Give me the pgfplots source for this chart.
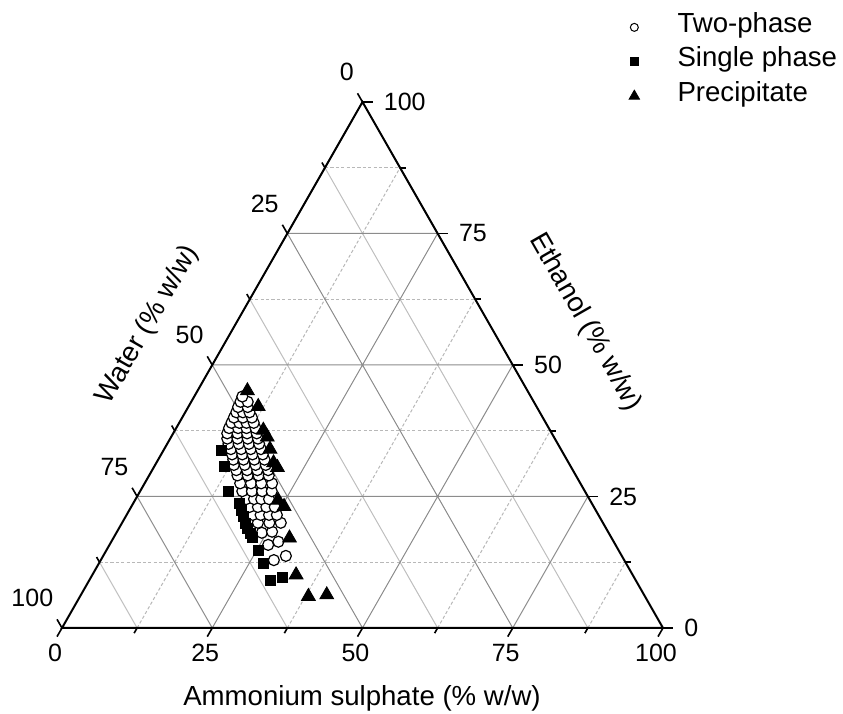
\documentclass[border=0pt]{standalone}
\usepackage{pgfplots}
\pgfplotsset{compat=1.18}
\usepackage{pgfplotstable}
\usepackage{fontspec}
\setmainfont{Liberation Sans}

\newcommand\ticksize{\fontsize{12.5}{15}\selectfont}
\newcommand\titlesize{\fontsize{13.8}{16.5}\selectfont}

\definecolor{gridmajor}{gray}{0.55}
\definecolor{gridminor}{gray}{0.72}
\definecolor{gridminorw}{gray}{0.75}
\tikzset{ttick/.style={black, line width=0.8pt}}

% Compositions in % w/w: A = ammonium sulphate, E = ethanol (water = 100 - A - E)
\pgfplotstableread{
A E
28.8 12.9
30.4 13.7
26.4 15.8
27.8 16.4
24.2 18.1
25.8 18.3
22.6 20.0
24.5 20.0
26.4 20.0
21.0 21.5
22.3 21.5
23.7 21.5
25.0 21.5
19.7 23.0
21.1 23.0
22.5 23.0
23.9 23.0
18.4 24.5
19.7 24.5
20.9 24.5
22.2 24.5
17.0 26.0
18.6 26.0
20.3 26.0
21.9 26.0
15.9 27.5
17.7 27.5
19.4 27.5
21.2 27.5
14.7 29.0
16.4 29.0
18.2 29.0
19.9 29.0
14.0 30.0
15.8 30.0
17.5 30.0
19.3 30.0
13.1 31.0
14.9 31.0
16.7 31.0
18.4 31.0
12.5 32.0
14.2 32.0
16.0 32.0
17.7 32.0
11.8 33.0
13.5 33.0
15.2 33.0
16.9 33.0
11.1 34.0
12.8 34.0
14.4 34.0
16.1 34.0
10.2 35.0
11.9 35.0
13.6 35.0
15.3 35.0
9.5 36.0
11.2 36.0
12.9 36.0
14.6 36.0
9.0 37.0
10.7 37.0
12.3 37.0
13.9 37.0
8.8 38.0
10.3 38.0
11.7 38.0
13.2 38.0
8.7 39.0
10.0 39.0
11.2 39.0
12.4 39.0
8.6 40.0
10.1 40.0
11.6 40.0
8.5 41.0
9.6 41.0
10.7 41.0
8.3 42.0
9.9 42.0
8.2 43.0
9.4 43.0
8.0 44.0
}\twophase

\pgfplotstableread{
A E
9.65 33.8
11.6 30.8
14.7 25.9
17.65 23.7
18.7 22.4
19.6 21.2
20.5 19.9
21.35 19.0
22.3 18.0
23.1 17.2
25.25 14.8
27.35 12.3
30.05 9.1
31.8 9.6
}\singlephase

\pgfplotstableread{
A E
8.3 45.1
11.6 42.1
14.7 37.6
16.0 36.3
17.6 34.0
19.5 31.4
20.6 30.5
23.8 24.3
25.4 23.1
29.3 17.1
33.9 10.1
38.0 6.0
40.9 6.3
}\precipitate

\begin{document}
\begin{tikzpicture}
\begin{axis}[
  x=3.005pt, y=2.63pt,
  xmin=-10.316, xmax=129.95, ymin=-16.35, ymax=119.39,
  hide axis, clip=false,
  legend style={at={(axis cs:94.3,116.05)}, anchor=north west,
    draw=none, fill=none, inner sep=0pt, font=\titlesize,
    row sep=7.8pt, nodes={inner sep=0pt, font=\titlesize},
    /tikz/every odd column/.append style={column sep=19pt},
    /tikz/every even column/.append style={nodes={text height=0.73em, text depth=0.21em}}},
  legend cell align=left,
  legend image code/.code={\draw[#1] plot coordinates {(0pt,0pt)};},
]
% bounding box corners
\coordinate (bbsw) at (axis cs:-10.316,-16.35);
\coordinate (bbne) at (axis cs:129.95,119.39);

% minor grid: ammonium sulphate (dashed)
\draw[gridminor, line width=0.5pt, dash pattern=on 1.6pt off 1.1pt]
  (axis cs:12.5,0) -- (axis cs:56.25,87.5)
  (axis cs:37.5,0) -- (axis cs:68.75,62.5)
  (axis cs:62.5,0) -- (axis cs:81.25,37.5)
  (axis cs:87.5,0) -- (axis cs:93.75,12.5);
% minor grid: ethanol (dashed)
\draw[gridminor, line width=0.5pt, dash pattern=on 1.6pt off 1.1pt]
  (axis cs:6.25,12.5) -- (axis cs:93.75,12.5)
  (axis cs:18.75,37.5) -- (axis cs:81.25,37.5)
  (axis cs:31.25,62.5) -- (axis cs:68.75,62.5)
  (axis cs:43.75,87.5) -- (axis cs:56.25,87.5);
% minor grid: water (solid)
\draw[gridminorw, line width=0.5pt]
  (axis cs:87.5,0) -- (axis cs:43.75,87.5)
  (axis cs:62.5,0) -- (axis cs:31.25,62.5)
  (axis cs:37.5,0) -- (axis cs:18.75,37.5)
  (axis cs:12.5,0) -- (axis cs:6.25,12.5);
% major grid
\draw[gridmajor, line width=0.5pt]
  (axis cs:25,0) -- (axis cs:62.5,75)
  (axis cs:50,0) -- (axis cs:75,50)
  (axis cs:75,0) -- (axis cs:87.5,25)
  (axis cs:12.5,25) -- (axis cs:87.5,25)
  (axis cs:25,50) -- (axis cs:75,50)
  (axis cs:37.5,75) -- (axis cs:62.5,75)
  (axis cs:75,0) -- (axis cs:37.5,75)
  (axis cs:50,0) -- (axis cs:25,50)
  (axis cs:25,0) -- (axis cs:12.5,25);

% triangle frame
\draw[black, line width=1pt, line join=miter]
  (axis cs:0,0) -- (axis cs:100,0) -- (axis cs:50,100) -- cycle;

% ticks: ammonium sulphate (bottom)
\draw[ttick] (axis cs:0,0) -- ++(240:5pt);
\draw[ttick] (axis cs:25,0) -- ++(240:5pt);
\draw[ttick] (axis cs:50,0) -- ++(240:5pt);
\draw[ttick] (axis cs:75,0) -- ++(240:5pt);
\draw[ttick] (axis cs:100,0) -- ++(240:5pt);
\draw[ttick] (axis cs:12.5,0) -- ++(240:3pt);
\draw[ttick] (axis cs:37.5,0) -- ++(240:3pt);
\draw[ttick] (axis cs:62.5,0) -- ++(240:3pt);
\draw[ttick] (axis cs:87.5,0) -- ++(240:3pt);
% ticks: ethanol (right)
\draw[ttick] (axis cs:100,0) -- ++(0:5pt);
\draw[ttick] (axis cs:87.5,25) -- ++(0:5pt);
\draw[ttick] (axis cs:75,50) -- ++(0:5pt);
\draw[ttick] (axis cs:62.5,75) -- ++(0:5pt);
\draw[ttick] (axis cs:50,100) -- ++(0:5pt);
\draw[ttick] (axis cs:93.75,12.5) -- ++(0:3pt);
\draw[ttick] (axis cs:81.25,37.5) -- ++(0:3pt);
\draw[ttick] (axis cs:68.75,62.5) -- ++(0:3pt);
\draw[ttick] (axis cs:56.25,87.5) -- ++(0:3pt);
% ticks: water (left)
\draw[ttick] (axis cs:50,100) -- ++(120:5pt);
\draw[ttick] (axis cs:37.5,75) -- ++(120:5pt);
\draw[ttick] (axis cs:25,50) -- ++(120:5pt);
\draw[ttick] (axis cs:12.5,25) -- ++(120:5pt);
\draw[ttick] (axis cs:0,0) -- ++(120:5pt);
\draw[ttick] (axis cs:43.75,87.5) -- ++(120:3pt);
\draw[ttick] (axis cs:31.25,62.5) -- ++(120:3pt);
\draw[ttick] (axis cs:18.75,37.5) -- ++(120:3pt);
\draw[ttick] (axis cs:6.25,12.5) -- ++(120:3pt);

% tick labels
\begin{scope}[every node/.style={font=\ticksize, inner sep=0pt}]
\node[anchor=north, xshift=-3.5pt, yshift=-8pt] at (axis cs:0,0) {0};
\node[anchor=north, xshift=-3.5pt, yshift=-8pt] at (axis cs:25,0) {25};
\node[anchor=north, xshift=-3.5pt, yshift=-8pt] at (axis cs:50,0) {50};
\node[anchor=north, xshift=-3.5pt, yshift=-8pt] at (axis cs:75,0) {75};
\node[anchor=north, xshift=-3.5pt, yshift=-8pt] at (axis cs:100,0) {100};
\node[anchor=west, xshift=10.5pt] at (axis cs:100,0) {0};
\node[anchor=west, xshift=10.5pt] at (axis cs:87.5,25) {25};
\node[anchor=west, xshift=10.5pt] at (axis cs:75,50) {50};
\node[anchor=west, xshift=10.5pt] at (axis cs:62.5,75) {75};
\node[anchor=west, xshift=10.5pt] at (axis cs:50,100) {100};
\node[anchor=south east, xshift=-4.2pt, yshift=10.4pt] at (axis cs:50,100) {0};
\node[anchor=south east, xshift=-4.2pt, yshift=10.4pt] at (axis cs:37.5,75) {25};
\node[anchor=south east, xshift=-4.2pt, yshift=10.4pt] at (axis cs:25,50) {50};
\node[anchor=south east, xshift=-4.2pt, yshift=10.4pt] at (axis cs:12.5,25) {75};
\node[anchor=south east, xshift=-4.2pt, yshift=10.4pt] at (axis cs:0,0) {100};
\end{scope}

% axis titles
\node[font=\titlesize, anchor=base] at (axis cs:49.92,-14.83) {Ammonium sulphate (\% w/w)};
\node[font=\titlesize, rotate=60.2] at (axis cs:14.31,57.6) {Water (\% w/w)};
\node[font=\titlesize, rotate=-60.2] at (axis cs:87.02,58.17) {Ethanol (\% w/w)};

% data
\addplot[forget plot, only marks, mark=*, mark size=2.75pt,
  mark options={fill=white, draw=black, line width=0.6pt}]
  table[x expr=\thisrow{A}+0.5*\thisrow{E}, y=E] {\twophase};
\addplot[forget plot, only marks, mark=square*, mark size=2.5pt,
  mark options={fill=black, draw=black}]
  table[x expr=\thisrow{A}+0.5*\thisrow{E}, y=E] {\singlephase};
\addplot[forget plot, only marks, mark=triangle*, mark size=4.0pt,
  mark options={fill=black, draw=black}]
  table[x expr=\thisrow{A}+0.5*\thisrow{E}, y=E] {\precipitate};

% legend
\addlegendimage{only marks, mark=*, mark size=2.0pt, mark options={fill=white, draw=black, line width=0.5pt}}
\addlegendentry{Two-phase}
\addlegendimage{only marks, mark=square*, mark size=2.0pt, mark options={fill=black}}
\addlegendentry{Single phase}
\addlegendimage{only marks, mark=triangle*, mark size=3.0pt, mark options={fill=black}}
\addlegendentry{Precipitate}
\end{axis}
\pgfresetboundingbox
\useasboundingbox (bbsw) rectangle (bbne);
\end{tikzpicture}
\end{document}
